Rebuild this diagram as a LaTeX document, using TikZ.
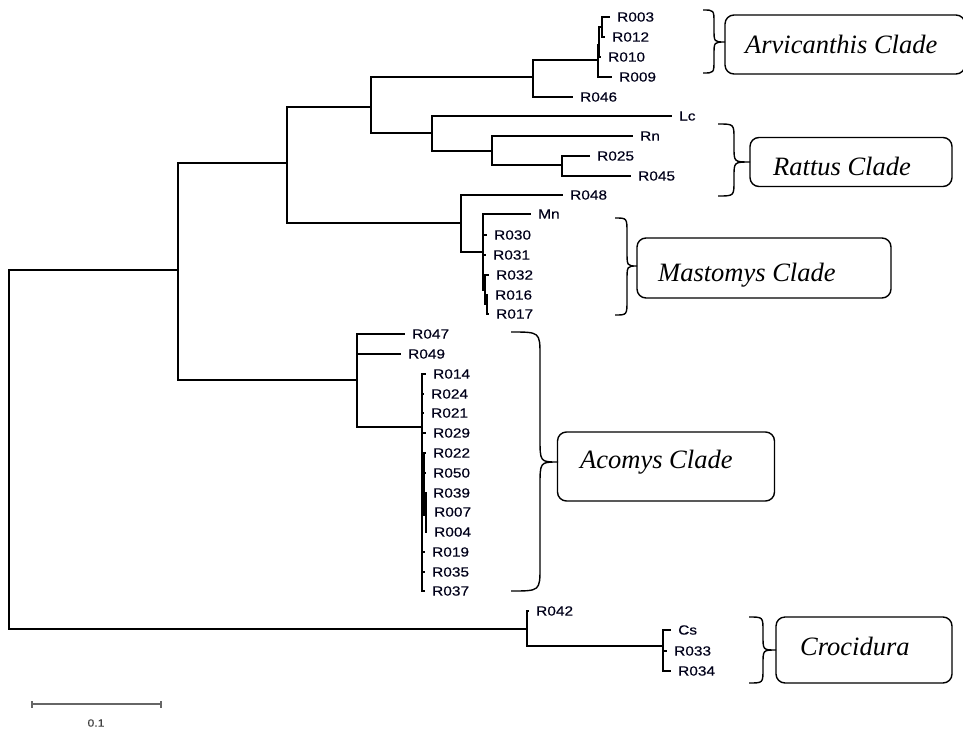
\documentclass[tikz,border=0pt]{standalone}
\usepackage{fontspec}
\newfontfamily\leaffont[FakeStretch=1.16,FakeBold=0.4]{Liberation Sans}
\newfontfamily\cladefont{Liberation Serif}
\tikzset{
  br/.style={line width=1.3pt, line cap=rect},
  leaftext/.style={anchor=west, inner sep=0pt, font=\leaffont\fontsize{13.3}{15}\selectfont, text=black!90!blue},
  cladebox/.style={draw, rounded corners=9pt, line width=1.4pt, inner sep=0pt},
  cladetext/.style={anchor=base west, inner sep=0pt, font=\cladefont\itshape\fontsize{26.5}{30}\selectfont},
  bracestyle/.style={line width=1.4pt},
  scalebar/.style={line width=1.2pt, black!60}
}
\newcommand\lf[4]{%
  \coordinate (#1) at (#2,#3);
  \node[leaftext] (t#1) at ([xshift=8pt]#1) {#1};
  \draw[br] (#4) |- (#1);}
\newcommand\inn[4]{%
  \coordinate (#1) at (#2,#3);
  \draw[br] (#4) |- (#1);}
% x0 left end, xm vertical, x1 tip, yt top, ym tip y, yb bottom, r radius
\newcommand\cbrace[7]{%
  \draw[bracestyle] (#1,#4) .. controls (#2,#4) .. (#2,#4+#7) -- (#2,#5-#7)
    .. controls (#2,#5) .. (#3,#5) .. controls (#2,#5) .. (#2,#5+#7)
    -- (#2,#6-#7) .. controls (#2,#6) .. (#1,#6);}
\begin{document}
\begin{tikzpicture}[x=1pt,y=-1pt]
\useasboundingbox (0,0) rectangle (963,731);
% root
\coordinate (n0) at (9,449);
\inn{n1}{178}{270}{n0}
\inn{n11}{527}{629}{n0}
\inn{n2}{287}{163}{n1}
\inn{n7}{357}{380}{n1}
\inn{n3}{371}{107}{n2}
\inn{n6}{461}{223}{n2}
\inn{n4}{533}{77}{n3}
\inn{n5}{432}{133}{n3}
% Arvicanthis
\inn{n4a}{598}{60}{n4}
\lf{R046}{572}{97}{n4}
\inn{n4b}{599}{45}{n4a}
\lf{R009}{611}{77}{n4a}
\inn{n4c}{602}{27}{n4b}
\lf{R010}{600}{57}{n4b}
\lf{R003}{609}{17}{n4c}
\lf{R012}{604}{37}{n4c}
% Rattus
\lf{Lc}{671}{116}{n5}
\inn{n5a}{492}{151}{n5}
\lf{Rn}{632}{136}{n5a}
\inn{n5b}{562}{165}{n5a}
\lf{R025}{589}{156}{n5b}
\lf{R045}{630}{176}{n5b}
% Mastomys
\lf{R048}{562}{195}{n6}
\inn{n6a}{483}{252}{n6}
\lf{Mn}{530}{214}{n6a}
\lf{R030}{486}{235}{n6a}
\lf{R031}{485}{255}{n6a}
\inn{n6b}{485}{290}{n6a}
\lf{R032}{488}{275}{n6b}
\inn{n6c}{487}{304}{n6b}
\lf{R016}{487}{295}{n6c}
\lf{R017}{488}{314}{n6c}
% Acomys
\lf{R047}{404}{334}{n7}
\lf{R049}{400}{354}{n7}
\inn{n8}{422}{427}{n7}
\lf{R014}{425}{374}{n8}
\lf{R024}{423}{394}{n8}
\lf{R021}{423}{413}{n8}
\lf{R029}{425}{433}{n8}
\inn{n9}{424}{490}{n8}
\lf{R022}{425}{453}{n9}
\lf{R050}{425}{473}{n9}
\inn{n10}{426}{515}{n9}
\lf{R039}{425}{493}{n10}
\lf{R007}{426}{512}{n10}
\lf{R004}{426}{532}{n10}
\lf{R019}{424}{552}{n8}
\lf{R035}{424}{572}{n8}
\lf{R037}{424}{591}{n8}
% Crocidura
\lf{R042}{528}{611}{n11}
\inn{n12}{663}{646}{n11}
\lf{Cs}{670}{630}{n12}
\lf{R033}{666}{651}{n12}
\lf{R034}{670}{671}{n12}
% scale bar
\coordinate (sbL) at (32,704);
\coordinate (sbR) at (161,704);
\draw[scalebar] (sbL) -- (sbR);
\draw[scalebar] ([yshift=-3.5pt]sbL) -- ([yshift=3.5pt]sbL);
\draw[scalebar] ([yshift=-3.5pt]sbR) -- ([yshift=3.5pt]sbR);
\node[font=\leaffont\fontsize{10.5}{12}\selectfont, text=black!75, inner sep=0pt] (sbT) at (96,723) {0.1};
% braces
\cbrace{703}{714}{725}{10}{42}{73}{13}
\cbrace{718}{734}{750}{124}{162}{196}{15}
\cbrace{615}{627}{637}{218}{266}{315}{15}
\cbrace{511}{540}{558}{332}{462}{591}{24}
\cbrace{749}{763}{776}{617}{650}{683}{14}
% boxes
\node[cladebox, minimum width=240pt, minimum height=59pt] (bArv) at (845,44.5) {};
\node[cladebox, minimum width=202pt, minimum height=49pt] (bRat) at (851,162) {};
\node[cladebox, minimum width=254pt, minimum height=60pt] (bMas) at (764,268) {};
\node[cladebox, minimum width=217pt, minimum height=69pt] (bAco) at (666,466.5) {};
\node[cladebox, minimum width=176pt, minimum height=66pt] (bCro) at (864,650) {};
\node[cladetext] (lArv) at (745,53) {Arvicanthis Clade};
\node[cladetext] (lRat) at (773,175) {Rattus Clade};
\node[cladetext] (lMas) at (658,281) {Mastomys Clade};
\node[cladetext] (lAco) at (580,468) {Acomys Clade};
\node[cladetext] (lCro) at (800,655) {Crocidura};
\end{tikzpicture}
\end{document}
